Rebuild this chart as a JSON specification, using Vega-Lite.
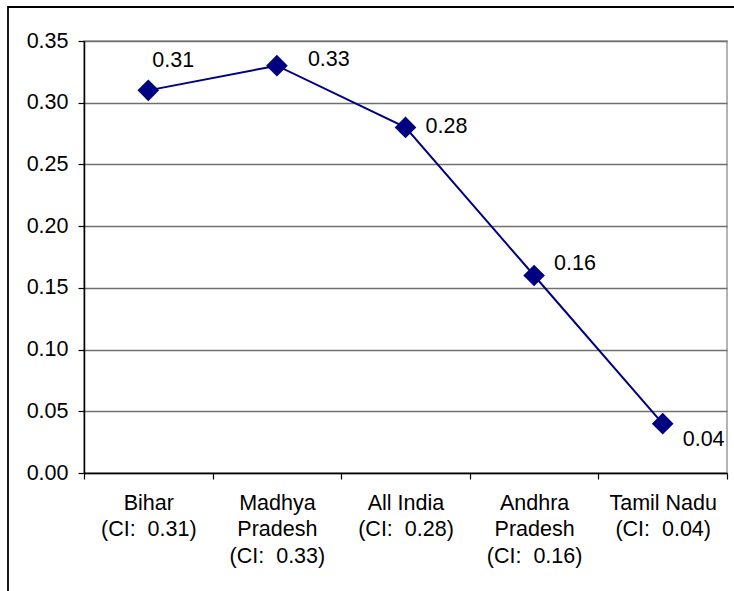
{
  "$schema": "https://vega.github.io/schema/vega-lite/v6.json",
  "autosize": "none",
  "width": 643,
  "height": 432,
  "padding": {"left": 84, "top": 41, "right": 7, "bottom": 118},
  "background": "white",
  "config": {
    "font": "Liberation Sans",
    "view": {"stroke": "#9a9a9a", "strokeWidth": 1.5}
  },
  "datasets": {
    "ci": [
      {"state": "Bihar|(CI:\u00a0 0.31)", "ci": 0.31},
      {"state": "Madhya|Pradesh|(CI:\u00a0 0.33)", "ci": 0.33},
      {"state": "All India|(CI:\u00a0 0.28)", "ci": 0.28},
      {"state": "Andhra|Pradesh|(CI:\u00a0 0.16)", "ci": 0.16},
      {"state": "Tamil Nadu|(CI:\u00a0 0.04)", "ci": 0.04}
    ],
    "frame": [{"x0": -0.1182, "x1": 1.03, "y0": -0.35, "y1": 1.0787}]
  },
  "layer": [
    {
      "data": {"name": "frame"},
      "mark": {"type": "rect", "fill": null, "stroke": "#000000", "strokeWidth": 1.8, "clip": false},
      "encoding": {
        "x": {"field": "x0", "type": "quantitative", "scale": {"domain": [0, 1], "nice": false, "zero": false}, "axis": null},
        "x2": {"field": "x1"},
        "y": {"field": "y0", "type": "quantitative", "scale": {"domain": [0, 1], "nice": false, "zero": false}, "axis": null},
        "y2": {"field": "y1"}
      }
    },
    {
      "data": {"name": "ci"},
      "encoding": {
        "x": {
          "field": "state",
          "type": "nominal",
          "sort": null,
          "scale": {"paddingInner": 0, "paddingOuter": 0},
          "axis": {
            "title": null,
            "labelAngle": 0,
            "labelExpr": "split(datum.label, '|')",
            "labelFontSize": 21.5,
            "labelColor": "#000000",
            "labelLineHeight": 26.5,
            "labelPadding": 13,
            "labelBaseline": "top",
            "tickBand": "extent",
            "tickSize": 6,
            "tickColor": "#000000",
            "tickWidth": 1.2,
            "domainColor": "#000000",
            "domainWidth": 1.5,
            "grid": false
          }
        },
        "y": {
          "field": "ci",
          "type": "quantitative",
          "scale": {"domain": [0, 0.35], "nice": false},
          "axis": {
            "title": null,
            "values": [0, 0.05, 0.1, 0.15, 0.2, 0.25, 0.3, 0.35],
            "format": ".2f",
            "labelFontSize": 21.5,
            "labelColor": "#000000",
            "labelPadding": 10,
            "tickSize": 6,
            "tickColor": "#000000",
            "tickWidth": 1.2,
            "domainColor": "#000000",
            "domainWidth": 1.5,
            "grid": true,
            "gridColor": "#707070",
            "gridWidth": 1.3
          }
        }
      },
      "layer": [
        {"mark": {"type": "line", "color": "#000080", "strokeWidth": 2}},
        {"mark": {"type": "point", "shape": "diamond", "filled": true, "color": "#000080", "size": 470, "opacity": 1}},
        {
          "transform": [{"filter": "datum.ci == 0.31"}],
          "mark": {"type": "text", "align": "left", "baseline": "middle", "fontSize": 21.5, "color": "#000000", "dx": 4, "dy": -29},
          "encoding": {"text": {"field": "ci", "type": "quantitative", "format": ".2f"}}
        },
        {
          "transform": [{"filter": "datum.ci == 0.33"}],
          "mark": {"type": "text", "align": "left", "baseline": "middle", "fontSize": 21.5, "color": "#000000", "dx": 31, "dy": -6},
          "encoding": {"text": {"field": "ci", "type": "quantitative", "format": ".2f"}}
        },
        {
          "transform": [{"filter": "datum.ci == 0.28"}],
          "mark": {"type": "text", "align": "left", "baseline": "middle", "fontSize": 21.5, "color": "#000000", "dx": 20, "dy": 0},
          "encoding": {"text": {"field": "ci", "type": "quantitative", "format": ".2f"}}
        },
        {
          "transform": [{"filter": "datum.ci == 0.16"}],
          "mark": {"type": "text", "align": "left", "baseline": "middle", "fontSize": 21.5, "color": "#000000", "dx": 20, "dy": -12},
          "encoding": {"text": {"field": "ci", "type": "quantitative", "format": ".2f"}}
        },
        {
          "transform": [{"filter": "datum.ci == 0.04"}],
          "mark": {"type": "text", "align": "left", "baseline": "middle", "fontSize": 21.5, "color": "#000000", "dx": 20, "dy": 16},
          "encoding": {"text": {"field": "ci", "type": "quantitative", "format": ".2f"}}
        }
      ]
    }
  ],
  "resolve": {"scale": {"x": "independent", "y": "independent"}}
}
